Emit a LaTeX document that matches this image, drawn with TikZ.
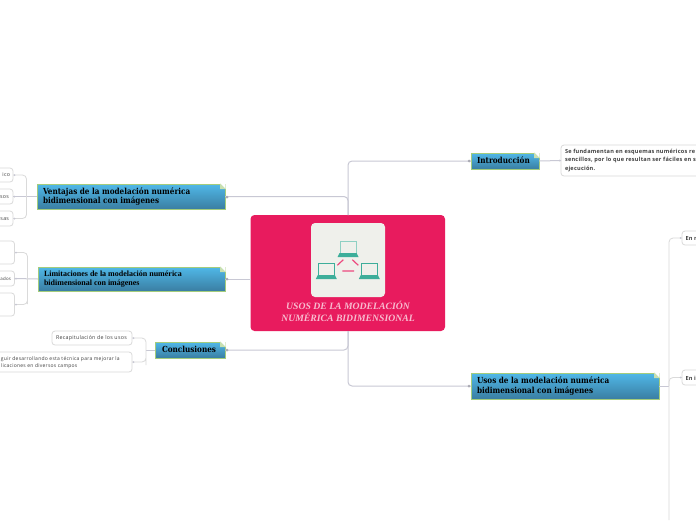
\documentclass[tikz,border=0pt]{standalone}
\usepackage{fontspec}
\setmainfont{Liberation Serif}
\newfontfamily\slabfont[FakeStretch=0.87]{DejaVu Serif}
\newfontfamily\leaffont[LetterSpace=5]{Open Sans}
\newfontfamily\leafboldfont[LetterSpace=4]{Open Sans}
\usetikzlibrary{positioning, calc, shadows}

\definecolor{pinkmain}{HTML}{E81B5E}
\definecolor{iconbg}{HTML}{EFF0EB}
\definecolor{teal1}{HTML}{3DAE9A}
\definecolor{teal2}{HTML}{8FD0C3}
\definecolor{linkgray}{HTML}{C8C8D4}
\definecolor{boxgray}{HTML}{DADADA}
\definecolor{topblue}{HTML}{50B8E8}
\definecolor{lowblue}{HTML}{3A7EA2}
\definecolor{edgegreen}{HTML}{A4CC7C}

\begin{document}
\begin{tikzpicture}[
    x=1pt, y=-1pt,
    every node/.style={inner sep=0pt, outer sep=0pt},
    topic/.style={draw=edgegreen, line width=1pt, top color=topblue, bottom color=lowblue,
        drop shadow={shadow xshift=0.5pt, shadow yshift=-1pt, opacity=0.18}, anchor=north west},
    topictext/.style={anchor=west, align=left, text=black, font=\slabfont\bfseries\fontsize{8.35}{9.6}\selectfont},
    leaf/.style={draw=boxgray, fill=white, rounded corners=3pt, line width=0.8pt, anchor=north west},
    leaftext/.style={anchor=west, align=left, text=black!75, font=\leaffont\fontsize{5.3}{7.4}\selectfont},
    boldtext/.style={leaftext, font=\leafboldfont\bfseries\fontsize{5.6}{8.3}\selectfont},
    link/.style={draw=linkgray, line width=1pt, rounded corners=4pt},
    wire/.style={draw=boxgray, line width=0.8pt, rounded corners=4pt},
    tip/.style={circle, fill=linkgray!85!black, minimum size=3pt},
    smalltip/.style={circle, fill=linkgray, minimum size=2pt},
]
\useasboundingbox (0,0) rectangle (696,520);
\clip (0,0) rectangle (696,520);
\fill[white] (0,0) rectangle (696,520);

% central topic
\node[fill=pinkmain, rounded corners=4pt, minimum width=194.5pt, minimum height=116pt, anchor=north west] (root) at (250.5,215) {};
\node[fill=iconbg, rounded corners=4pt, minimum width=74pt, minimum height=74pt, anchor=north west] (icon) at (311,223) {};
\node[align=center, text=white!70!pinkmain, font=\itshape\bfseries\fontsize{9.7}{12.2}\selectfont] (roottext) at (348,311) {USOS DE LA MODELACIÓN\\NUMÉRICA BIDIMENSIONAL};

% main topics
\node[topic, minimum width=188pt, minimum height=25pt] (ventajas) at (37,184) {};
\node[topic, minimum width=187pt, minimum height=24pt] (limites) at (38,267) {};
\node[topic, minimum width=70pt, minimum height=16pt] (conclu) at (155,342) {};
\node[topic, minimum width=68pt, minimum height=16pt] (intro) at (471,153) {};
\node[topic, minimum width=188pt, minimum height=26pt] (usos) at (471,373) {};

\node[topictext] (ventajastext) at (43,196.5) {Ventajas de la modelación numérica\\bidimensional con imágenes};
\node[topictext, font=\bfseries\fontsize{8}{9.6}\selectfont] (limitestext) at (44,279) {Limitaciones de la modelación numérica\\bidimensional con imágenes};
\node[topictext] (conclutext) at (162,349.5) {Conclusiones};
\node[topictext] (introtext) at (477,160.5) {Introducción};
\node[topictext] (usostext) at (477,386) {Usos de la modelación numérica\\bidimensional con imágenes};

% folded corners
\foreach \px/\py in {225/184, 225/267, 225/342, 539/153, 659/373} {
    \fill[white] (\px-5,\py-0.6) -- (\px+0.6,\py-0.6) -- (\px+0.6,\py+5) -- cycle;
    \fill[edgegreen!60!white] (\px-5,\py-0.6) -- (\px+0.6,\py+5) -- (\px-5,\py+5) -- cycle;
}

% leaves
\node[leaf, minimum width=33pt, minimum height=14pt] (ven1) at (-20,168) {};
\node[leaf, minimum width=33pt, minimum height=15pt] (ven2) at (-20,189) {};
\node[leaf, minimum width=33pt, minimum height=15pt] (ven3) at (-20,211) {};
\node[leaf, minimum width=34.5pt, minimum height=23pt] (lim1) at (-20,241) {};
\node[leaf, minimum width=34.5pt, minimum height=15pt] (lim2) at (-20,271) {};
\node[leaf, minimum width=34.5pt, minimum height=23pt] (lim3) at (-20,293) {};
\node[leaf, minimum width=80pt, minimum height=14pt] (con1) at (52,331) {};
\node[leaf, minimum width=152pt, minimum height=20pt] (con2) at (-20,352) {};
\node[leaf, minimum width=160pt, minimum height=31pt] (int1) at (561,145) {};
\node[leaf, minimum width=40pt, minimum height=14pt] (uso1) at (682,231) {};
\node[leaf, minimum width=40pt, minimum height=15pt] (uso2) at (682,370) {};

\node[leaftext, anchor=east] (ven1text) at (10,175) {ico};
\node[leaftext, anchor=east] (ven2text) at (9,197) {sos};
\node[leaftext, anchor=east] (ven3text) at (9,219) {sas};
\node[leaftext, font=\leaffont\fontsize{4.4}{6}\selectfont] (lim2text) at (0.5,279) {ados};
\node[leaftext] (con1text) at (56,338) {Recapitulación de los usos};
\node[leaftext, font=\leaffont\fontsize{5}{7}\selectfont] (con2text) at (1,362.5) {guir desarrollando esta técnica para mejorar la\\licaciones en diversos campos};
\node[boldtext] (int1text) at (565,160.5) {Se fundamentan en esquemas numéricos re\\sencillos, por lo que resultan ser fáciles en s\\ejecución.};
\node[boldtext] (uso1text) at (685.5,238) {En n};
\node[boldtext] (uso2text) at (685.5,378) {En i};

% main links
\draw[link] (ventajas.east) -| (348,215);
\draw[link] (limites.east) -- (root.west |- limites.east);
\draw[link] (conclu.east) -| (348,331);
\draw[link] (intro.west) -| (348,215);
\draw[link] (usos.west) -| (348,331);
\draw[link] (intro.east) -- (int1.west);
\draw[link] (usos.east) -- (669,386);
\draw[link] (ventajas.west) -- (ven2.east);
\draw[link] (limites.west) -- (lim2.east);
\draw[link] (conclu.west) -- (146,350);

% leaf wires
\draw[wire] (ven1.east) -| (26.5,211) |- (ven3.east);
\draw[wire] (lim1.east) -| (27.5,300) |- (lim3.east);
\draw[wire] (con1.east) -| (146,361) |- (con2.east);
\draw[wire] (uso1.west) -| (669,520);
\draw[wire] (uso2.west) -| (669,386);

% tips
\node[tip] (t1) at (227,197) {};
\node[tip] (t2) at (227,279) {};
\node[tip] (t3) at (227,350) {};
\node[tip] (t4) at (469,161) {};
\node[tip] (t5) at (469,386) {};
\foreach \leafname in {ven1, ven2, ven3, lim1, lim2, lim3, con1, con2}
    \node[smalltip] at ($(\leafname.east)+(1.5,0)$) {};
\foreach \leafname in {int1, uso1, uso2}
    \node[smalltip] at ($(\leafname.west)+(-1.5,0)$) {};

% icon laptops
\foreach \lx/\ly/\lc in {348/248/teal2, 326.3/270/teal1, 369.3/270/teal1} {
    \draw[\lc, line width=1pt] (\lx-8,\ly-6.5) rectangle (\lx+8,\ly+5);
    \fill[teal1] (\lx-8.5,\ly+5) -- (\lx+8.5,\ly+5) -- (\lx+10.5,\ly+9) -- (\lx-10.5,\ly+9) -- cycle;
}
\draw[pinkmain!80!white, line width=1.2pt] (337.3,265.3) -- (343.3,259.7)  (352.3,259.7) -- (358.3,265.3)  (342.3,271) -- (354,271);
\end{tikzpicture}
\end{document}
